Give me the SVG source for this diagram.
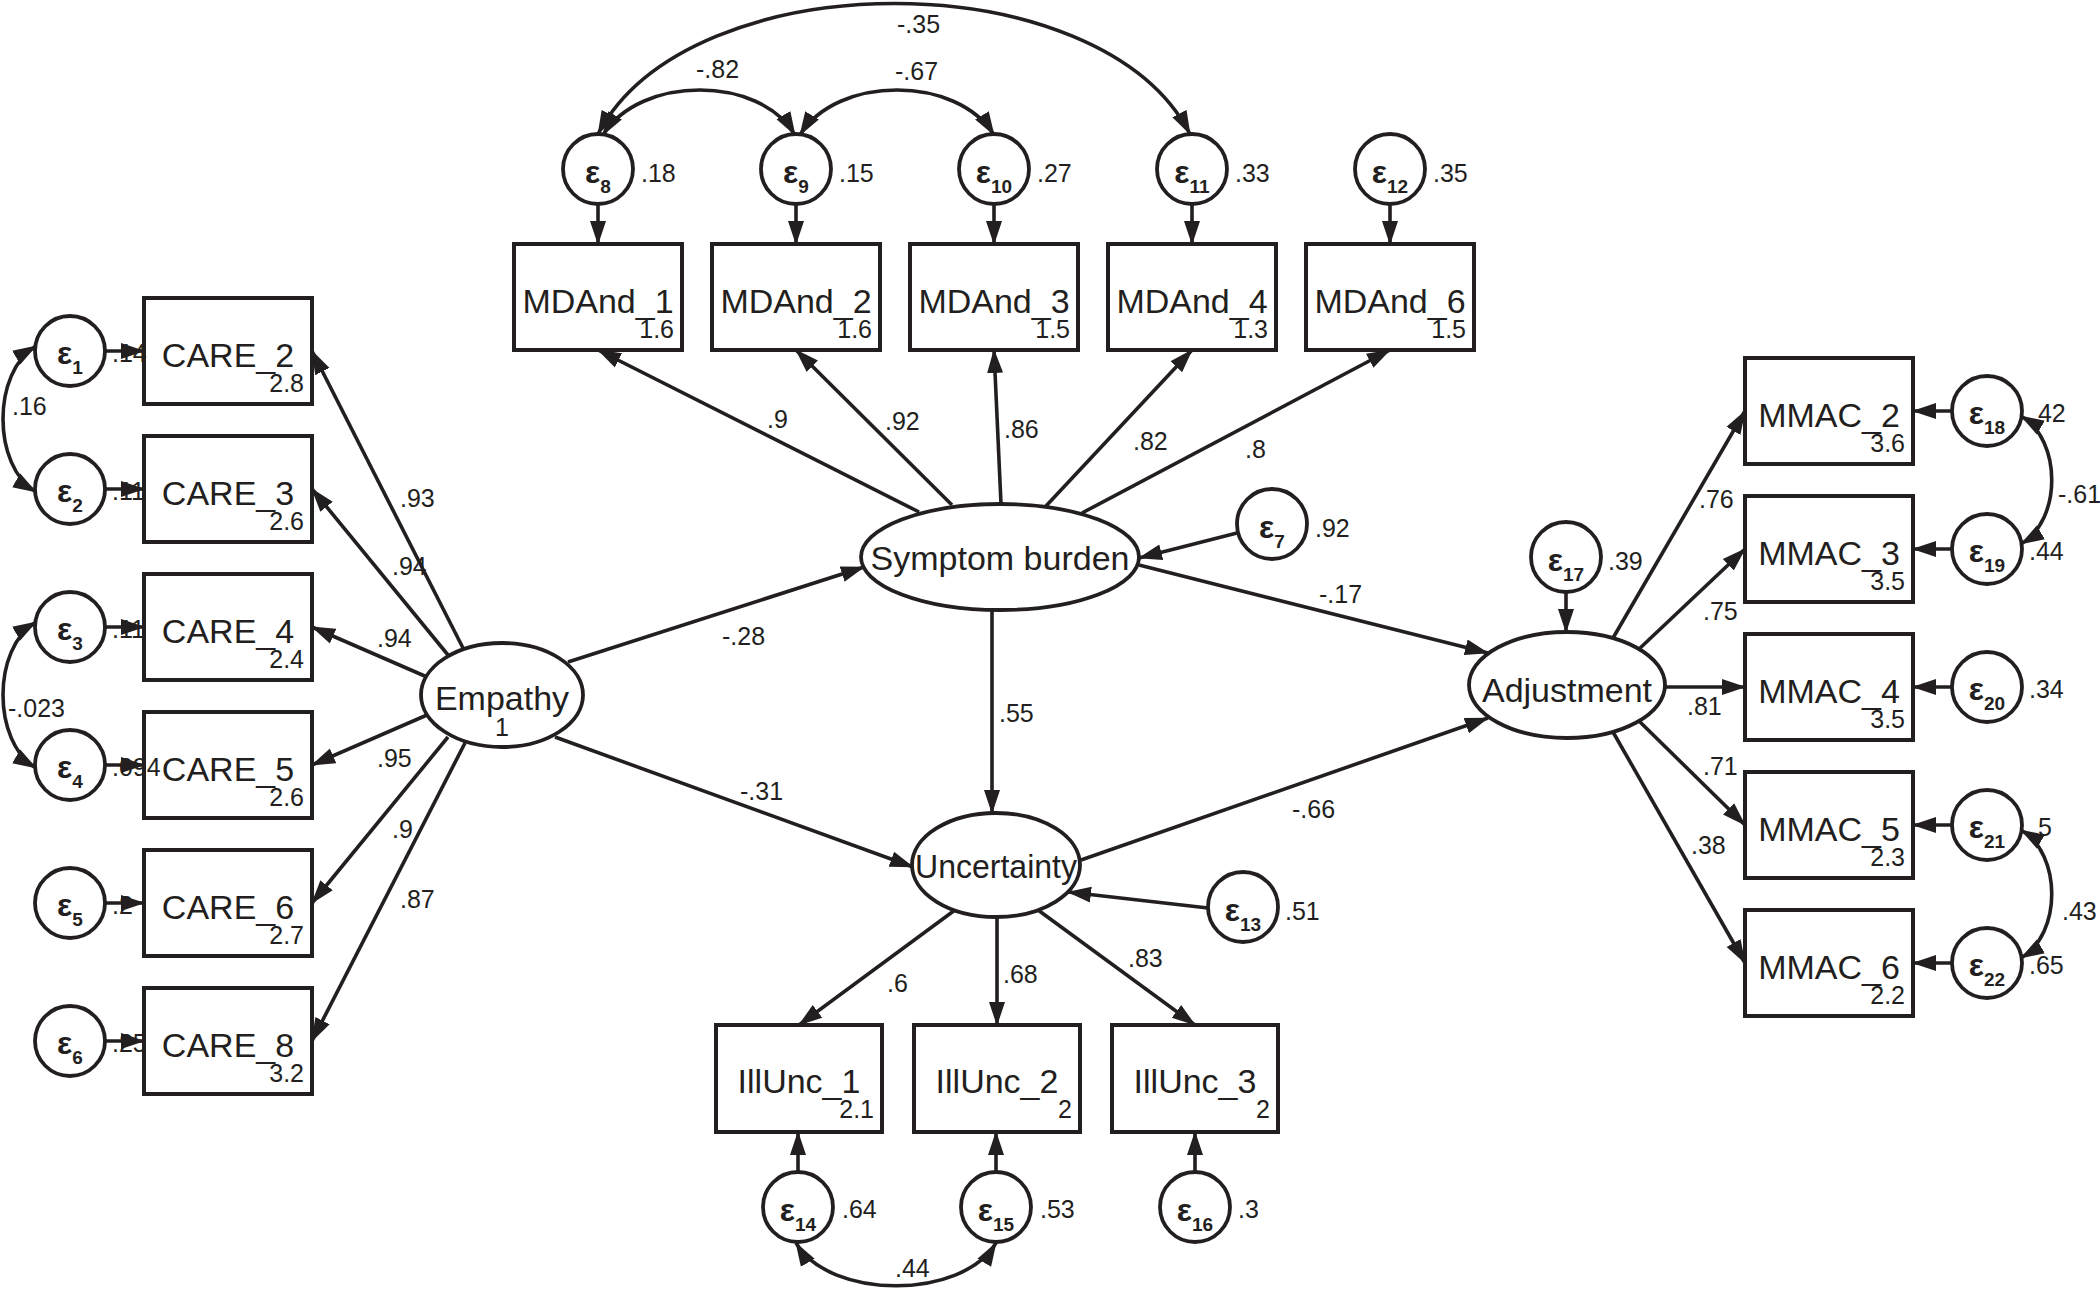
<svg xmlns="http://www.w3.org/2000/svg" width="2100" height="1290" viewBox="0 0 2100 1290">
<style>
.bg{fill:#ffffff}
.box{fill:#ffffff;stroke:#231f20;stroke-width:4}
.lat{fill:#ffffff;stroke:#231f20;stroke-width:3.8}
.err{fill:#ffffff;stroke:#231f20;stroke-width:3.8}
text{font-family:"Liberation Sans",Arial,Helvetica,sans-serif;fill:#231f20}
.name{font-size:34px;text-anchor:middle}
.icp{font-size:25px;text-anchor:end}
.v{font-size:25px}
.eps{font-size:32px;text-anchor:middle;font-weight:bold}
.sub{font-size:19px}
.c{fill:none;stroke:#231f20;stroke-width:3.6}
</style>
<defs>
<marker id="ah" markerUnits="userSpaceOnUse" markerWidth="25" markerHeight="18" viewBox="0 0 25 18" refX="23" refY="9" orient="auto-start-reverse">
<path d="M0,1 L24,9 L0,17 z" fill="#231f20"/>
</marker>
</defs>
<rect class="bg" x="0" y="0" width="2100" height="1290"/>

<!-- CARE observed -->
<g id="CARE_2"><rect class="box" x="144" y="298" width="168" height="106"/><text class="name" x="228" y="367">CARE_2</text><text class="icp" x="304" y="392">2.8</text></g>
<g id="CARE_3"><rect class="box" x="144" y="436" width="168" height="106"/><text class="name" x="228" y="505">CARE_3</text><text class="icp" x="304" y="530">2.6</text></g>
<g id="CARE_4"><rect class="box" x="144" y="574" width="168" height="106"/><text class="name" x="228" y="643">CARE_4</text><text class="icp" x="304" y="668">2.4</text></g>
<g id="CARE_5"><rect class="box" x="144" y="712" width="168" height="106"/><text class="name" x="228" y="781">CARE_5</text><text class="icp" x="304" y="806">2.6</text></g>
<g id="CARE_6"><rect class="box" x="144" y="850" width="168" height="106"/><text class="name" x="228" y="919">CARE_6</text><text class="icp" x="304" y="944">2.7</text></g>
<g id="CARE_8"><rect class="box" x="144" y="988" width="168" height="106"/><text class="name" x="228" y="1057">CARE_8</text><text class="icp" x="304" y="1082">3.2</text></g>

<!-- left errors -->
<g id="e1"><circle class="err" cx="70" cy="351" r="35"/><text class="eps" x="70" y="364">ε<tspan class="sub" dy="10">1</tspan></text><text class="v" x="112" y="362">.14</text></g>
<g id="e2"><circle class="err" cx="70" cy="489" r="35"/><text class="eps" x="70" y="502">ε<tspan class="sub" dy="10">2</tspan></text><text class="v" x="112" y="500">.11</text></g>
<g id="e3"><circle class="err" cx="70" cy="627" r="35"/><text class="eps" x="70" y="640">ε<tspan class="sub" dy="10">3</tspan></text><text class="v" x="112" y="638">.11</text></g>
<g id="e4"><circle class="err" cx="70" cy="765" r="35"/><text class="eps" x="70" y="778">ε<tspan class="sub" dy="10">4</tspan></text><text class="v" x="112" y="776">.094</text></g>
<g id="e5"><circle class="err" cx="70" cy="903" r="35"/><text class="eps" x="70" y="916">ε<tspan class="sub" dy="10">5</tspan></text><text class="v" x="112" y="914">.2</text></g>
<g id="e6"><circle class="err" cx="70" cy="1041" r="35"/><text class="eps" x="70" y="1054">ε<tspan class="sub" dy="10">6</tspan></text><text class="v" x="112" y="1052">.25</text></g>

<!-- MDAnd observed -->
<g id="MDAnd_1"><rect class="box" x="514" y="244" width="168" height="106"/><text class="name" x="598" y="313">MDAnd_1</text><text class="icp" x="674" y="338">1.6</text></g>
<g id="MDAnd_2"><rect class="box" x="712" y="244" width="168" height="106"/><text class="name" x="796" y="313">MDAnd_2</text><text class="icp" x="872" y="338">1.6</text></g>
<g id="MDAnd_3"><rect class="box" x="910" y="244" width="168" height="106"/><text class="name" x="994" y="313">MDAnd_3</text><text class="icp" x="1070" y="338">1.5</text></g>
<g id="MDAnd_4"><rect class="box" x="1108" y="244" width="168" height="106"/><text class="name" x="1192" y="313">MDAnd_4</text><text class="icp" x="1268" y="338">1.3</text></g>
<g id="MDAnd_6"><rect class="box" x="1306" y="244" width="168" height="106"/><text class="name" x="1390" y="313">MDAnd_6</text><text class="icp" x="1466" y="338">1.5</text></g>

<!-- top errors -->
<g id="e8"><circle class="err" cx="598" cy="169" r="35"/><text class="eps" x="598" y="183">ε<tspan class="sub" dy="10">8</tspan></text><text class="v" x="641" y="182">.18</text></g>
<g id="e9"><circle class="err" cx="796" cy="169" r="35"/><text class="eps" x="796" y="183">ε<tspan class="sub" dy="10">9</tspan></text><text class="v" x="839" y="182">.15</text></g>
<g id="e10"><circle class="err" cx="994" cy="169" r="35"/><text class="eps" x="994" y="183">ε<tspan class="sub" dy="10">10</tspan></text><text class="v" x="1037" y="182">.27</text></g>
<g id="e11"><circle class="err" cx="1192" cy="169" r="35"/><text class="eps" x="1192" y="183">ε<tspan class="sub" dy="10">11</tspan></text><text class="v" x="1235" y="182">.33</text></g>
<g id="e12"><circle class="err" cx="1390" cy="169" r="35"/><text class="eps" x="1390" y="183">ε<tspan class="sub" dy="10">12</tspan></text><text class="v" x="1433" y="182">.35</text></g>

<!-- MMAC observed -->
<g id="MMAC_2"><rect class="box" x="1745" y="358" width="168" height="106"/><text class="name" x="1829" y="427">MMAC_2</text><text class="icp" x="1905" y="452">3.6</text></g>
<g id="MMAC_3"><rect class="box" x="1745" y="496" width="168" height="106"/><text class="name" x="1829" y="565">MMAC_3</text><text class="icp" x="1905" y="590">3.5</text></g>
<g id="MMAC_4"><rect class="box" x="1745" y="634" width="168" height="106"/><text class="name" x="1829" y="703">MMAC_4</text><text class="icp" x="1905" y="728">3.5</text></g>
<g id="MMAC_5"><rect class="box" x="1745" y="772" width="168" height="106"/><text class="name" x="1829" y="841">MMAC_5</text><text class="icp" x="1905" y="866">2.3</text></g>
<g id="MMAC_6"><rect class="box" x="1745" y="910" width="168" height="106"/><text class="name" x="1829" y="979">MMAC_6</text><text class="icp" x="1905" y="1004">2.2</text></g>

<!-- right errors -->
<g id="e18"><circle class="err" cx="1987" cy="411" r="35"/><text class="eps" x="1987" y="424">ε<tspan class="sub" dy="10">18</tspan></text><text class="v" x="2031" y="422">.42</text></g>
<g id="e19"><circle class="err" cx="1987" cy="549" r="35"/><text class="eps" x="1987" y="562">ε<tspan class="sub" dy="10">19</tspan></text><text class="v" x="2029" y="560">.44</text></g>
<g id="e20"><circle class="err" cx="1987" cy="687" r="35"/><text class="eps" x="1987" y="700">ε<tspan class="sub" dy="10">20</tspan></text><text class="v" x="2029" y="698">.34</text></g>
<g id="e21"><circle class="err" cx="1987" cy="825" r="35"/><text class="eps" x="1987" y="838">ε<tspan class="sub" dy="10">21</tspan></text><text class="v" x="2031" y="836">.5</text></g>
<g id="e22"><circle class="err" cx="1987" cy="963" r="35"/><text class="eps" x="1987" y="976">ε<tspan class="sub" dy="10">22</tspan></text><text class="v" x="2029" y="974">.65</text></g>

<!-- IllUnc observed -->
<g id="IllUnc_1"><rect class="box" x="716" y="1025" width="166" height="107"/><text class="name" x="799" y="1093">IllUnc_1</text><text class="icp" x="874" y="1118">2.1</text></g>
<g id="IllUnc_2"><rect class="box" x="914" y="1025" width="166" height="107"/><text class="name" x="997" y="1093">IllUnc_2</text><text class="icp" x="1072" y="1118">2</text></g>
<g id="IllUnc_3"><rect class="box" x="1112" y="1025" width="166" height="107"/><text class="name" x="1195" y="1093">IllUnc_3</text><text class="icp" x="1270" y="1118">2</text></g>

<!-- bottom errors -->
<g id="e14"><circle class="err" cx="798" cy="1207" r="35"/><text class="eps" x="798" y="1221">ε<tspan class="sub" dy="10">14</tspan></text><text class="v" x="842" y="1218">.64</text></g>
<g id="e15"><circle class="err" cx="996" cy="1207" r="35"/><text class="eps" x="996" y="1221">ε<tspan class="sub" dy="10">15</tspan></text><text class="v" x="1040" y="1218">.53</text></g>
<g id="e16"><circle class="err" cx="1195" cy="1207" r="35"/><text class="eps" x="1195" y="1221">ε<tspan class="sub" dy="10">16</tspan></text><text class="v" x="1238" y="1218">.3</text></g>

<!-- latent variables -->
<g id="Empathy"><ellipse class="lat" cx="502" cy="695" rx="81" ry="52"/><text class="name" x="502" y="710">Empathy</text><text class="v" x="502" y="736" text-anchor="middle">1</text></g>
<g id="SymptomBurden"><ellipse class="lat" cx="1000" cy="557" rx="139" ry="53"/><text class="name" x="1000" y="570">Symptom burden</text></g>
<g id="e7"><circle class="err" cx="1272" cy="524" r="35"/><text class="eps" x="1272" y="538">ε<tspan class="sub" dy="10">7</tspan></text><text class="v" x="1315" y="537">.92</text></g>
<g id="Uncertainty"><ellipse class="lat" cx="996" cy="865" rx="84" ry="52"/><text class="name" x="996" y="878" textLength="162" lengthAdjust="spacingAndGlyphs">Uncertainty</text></g>
<g id="e13"><circle class="err" cx="1243" cy="907" r="35"/><text class="eps" x="1243" y="921">ε<tspan class="sub" dy="10">13</tspan></text><text class="v" x="1285" y="920">.51</text></g>
<g id="Adjustment"><ellipse class="lat" cx="1567" cy="685" rx="98" ry="53"/><text class="name" x="1567" y="702">Adjustment</text></g>
<g id="e17"><circle class="err" cx="1566" cy="557" r="35"/><text class="eps" x="1566" y="571">ε<tspan class="sub" dy="10">17</tspan></text><text class="v" x="1608" y="570">.39</text></g>

<!-- connectors -->
<g id="connectors" class="c" marker-end="url(#ah)">
<!-- error -> CARE -->
<line x1="105" y1="351" x2="144" y2="351"/>
<line x1="105" y1="489" x2="144" y2="489"/>
<line x1="105" y1="627" x2="144" y2="627"/>
<line x1="105" y1="765" x2="144" y2="765"/>
<line x1="105" y1="903" x2="144" y2="903"/>
<line x1="105" y1="1041" x2="144" y2="1041"/>
<!-- Empathy -> CARE -->
<line x1="463" y1="648" x2="312" y2="351"/>
<line x1="448" y1="655" x2="312" y2="489"/>
<line x1="427" y1="677" x2="312" y2="627"/>
<line x1="427" y1="715" x2="312" y2="765"/>
<line x1="448" y1="737" x2="312" y2="903"/>
<line x1="465" y1="743" x2="312" y2="1041"/>
<!-- structural -->
<line x1="568" y1="662" x2="864" y2="567"/>
<line x1="555" y1="737" x2="913" y2="867"/>
<line x1="992" y1="610" x2="992" y2="813"/>
<line x1="1139" y1="565" x2="1488" y2="653"/>
<line x1="1081" y1="860" x2="1488" y2="718"/>
<line x1="1237" y1="533" x2="1139" y2="558"/>
<line x1="1208" y1="908" x2="1068" y2="892"/>
<line x1="1566" y1="592" x2="1566" y2="632"/>
<!-- Symptom -> MDAnd -->
<line x1="919" y1="512" x2="598" y2="350"/>
<line x1="952" y1="505" x2="796" y2="350"/>
<line x1="1001" y1="504" x2="994" y2="350"/>
<line x1="1046" y1="506" x2="1192" y2="350"/>
<line x1="1082" y1="513" x2="1390" y2="350"/>
<!-- top errors -> MDAnd -->
<line x1="598" y1="204" x2="598" y2="244"/>
<line x1="796" y1="204" x2="796" y2="244"/>
<line x1="994" y1="204" x2="994" y2="244"/>
<line x1="1192" y1="204" x2="1192" y2="244"/>
<line x1="1390" y1="204" x2="1390" y2="244"/>
<!-- Uncertainty -> IllUnc -->
<line x1="955" y1="910" x2="799" y2="1025"/>
<line x1="997" y1="917" x2="997" y2="1025"/>
<line x1="1038" y1="910" x2="1195" y2="1025"/>
<!-- bottom errors -> IllUnc -->
<line x1="798" y1="1172" x2="798" y2="1132"/>
<line x1="996" y1="1172" x2="996" y2="1132"/>
<line x1="1195" y1="1172" x2="1195" y2="1132"/>
<!-- Adjustment -> MMAC -->
<line x1="1613" y1="638" x2="1745" y2="411"/>
<line x1="1638" y1="650" x2="1745" y2="549"/>
<line x1="1665" y1="687" x2="1745" y2="687"/>
<line x1="1638" y1="720" x2="1745" y2="825"/>
<line x1="1613" y1="732" x2="1745" y2="963"/>
<!-- right errors -> MMAC -->
<line x1="1952" y1="411" x2="1913" y2="411"/>
<line x1="1952" y1="549" x2="1913" y2="549"/>
<line x1="1952" y1="687" x2="1913" y2="687"/>
<line x1="1952" y1="825" x2="1913" y2="825"/>
<line x1="1952" y1="963" x2="1913" y2="963"/>
<!-- covariances -->
<path marker-start="url(#ah)" d="M36,346 C-8,372 -8,466 36,492"/>
<path marker-start="url(#ah)" d="M36,622 C-8,648 -8,742 36,768"/>
<path marker-start="url(#ah)" d="M598,134 C690,-40 1100,-40 1190,134"/>
<path marker-start="url(#ah)" d="M603,135 C640,75 760,75 795,135"/>
<path marker-start="url(#ah)" d="M800,135 C837,75 957,75 994,135"/>
<path marker-start="url(#ah)" d="M2021,416 C2062,440 2062,520 2021,544"/>
<path marker-start="url(#ah)" d="M2021,830 C2062,854 2062,934 2021,958"/>
<path marker-start="url(#ah)" d="M796,1243 C830,1300 962,1300 996,1243"/>
</g>

<!-- path labels -->
<g id="edge-labels">
<text class="v" x="400" y="507">.93</text>
<text class="v" x="392" y="575">.94</text>
<text class="v" x="377" y="647">.94</text>
<text class="v" x="377" y="767">.95</text>
<text class="v" x="392" y="838">.9</text>
<text class="v" x="400" y="908">.87</text>
<text class="v" x="12" y="415">.16</text>
<text class="v" x="8" y="717">-.023</text>
<text class="v" x="722" y="645">-.28</text>
<text class="v" x="740" y="800">-.31</text>
<text class="v" x="767" y="428">.9</text>
<text class="v" x="885" y="430">.92</text>
<text class="v" x="1004" y="438">.86</text>
<text class="v" x="1133" y="450">.82</text>
<text class="v" x="1245" y="458">.8</text>
<text class="v" x="897" y="33">-.35</text>
<text class="v" x="696" y="78">-.82</text>
<text class="v" x="895" y="80">-.67</text>
<text class="v" x="999" y="722">.55</text>
<text class="v" x="1319" y="603">-.17</text>
<text class="v" x="1292" y="818">-.66</text>
<text class="v" x="887" y="992">.6</text>
<text class="v" x="1003" y="983">.68</text>
<text class="v" x="1128" y="967">.83</text>
<text class="v" x="895" y="1277">.44</text>
<text class="v" x="1699" y="508">.76</text>
<text class="v" x="1703" y="620">.75</text>
<text class="v" x="1687" y="715">.81</text>
<text class="v" x="1703" y="775">.71</text>
<text class="v" x="1691" y="854">.38</text>
<text class="v" x="2058" y="503">-.61</text>
<text class="v" x="2062" y="920">.43</text>
</g>
</svg>
